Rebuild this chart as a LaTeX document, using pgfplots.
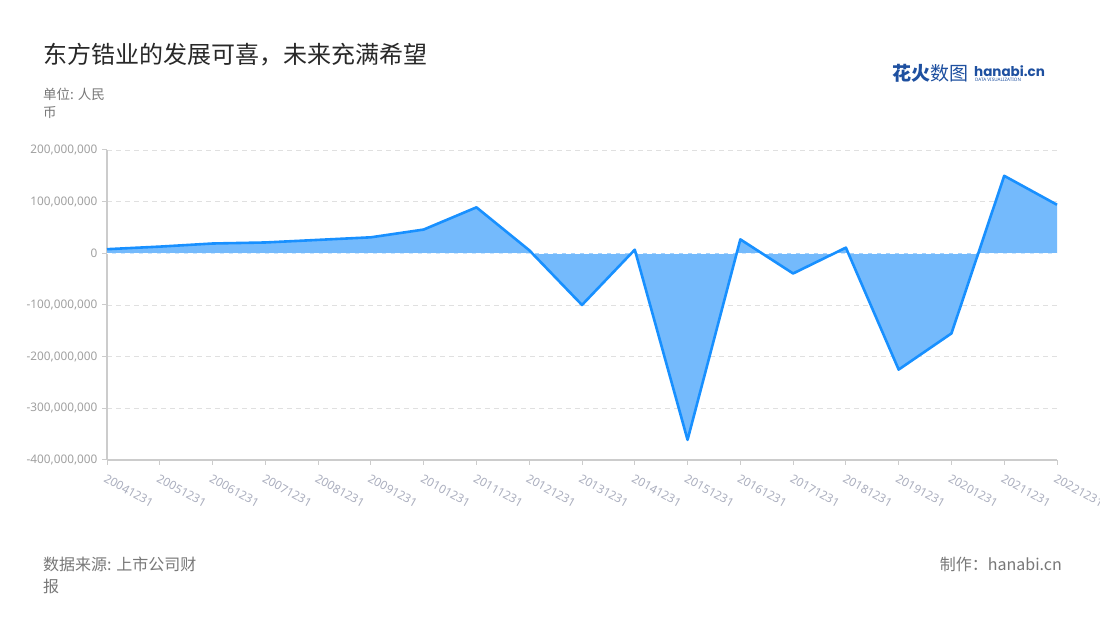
\documentclass[border=0pt]{standalone}
\usepackage{pgfplots}
\pgfplotsset{compat=1.18}
\usepackage{pgfplotstable}
\usepackage{fontspec}
\setmainfont{Noto Sans CJK SC}
\newfontfamily\latinfont{Noto Sans}
\newfontfamily\logofont{Poppins}
\definecolor{lineblue}{RGB}{24,144,255}
\definecolor{fillblue}{RGB}{116,186,252}
\definecolor{titlec}{RGB}{40,40,40}
\definecolor{unitc}{RGB}{120,120,120}
\definecolor{ytickc}{RGB}{160,160,160}
\definecolor{xtickc}{RGB}{170,174,190}
\definecolor{axisc}{RGB}{204,204,204}
\definecolor{gridc}{RGB}{224,224,224}
\definecolor{logoblue}{RGB}{30,80,160}
\pgfplotstableread{
x y
0 8000000
1 13000000
2 19000000
3 21000000
4 26000000
5 31000000
6 46000000
7 89000000
8 6000000
9 -100000000
10 7000000
11 -361000000
12 27000000
13 -39000000
14 11000000
15 -225000000
16 -155000000
17 150000000
18 94000000
}\data
\begin{document}
\begin{tikzpicture}[x=1pt,y=1pt]
\path[use as bounding box, fill=white] (0pt,0pt) rectangle (1100pt,620pt);
\node[anchor=west, text=titlec, font=\fontsize{24}{27}\selectfont, inner sep=0] at (43pt,565pt) {东方锆业的发展可喜，未来充满希望};
\node[anchor=north west, text=unitc, font=\fontsize{13.5}{18}\selectfont, align=left, inner sep=0] at (43pt,532pt) {单位: 人民\\币};
\node[anchor=north west, text=unitc, font=\fontsize{16}{22}\selectfont, align=left, inner sep=0] at (43pt,63pt) {数据来源: 上市公司财\\报};
\node[anchor=north east, text=unitc, font=\fontsize{16}{22}\selectfont, inner sep=0] at (1062pt,63pt) {制作：hanabi.cn};
\node[anchor=west, text=logoblue, font=\bfseries\fontsize{19}{20}\selectfont, inner sep=0] at (892pt,547pt) {花火\mdseries 数图};
\node[anchor=south west, text=logoblue, font=\logofont\bfseries\fontsize{13.5}{14}\selectfont, inner sep=0] at (974pt,543.5pt) {hanabi.cn};
\node[anchor=north west, text=logoblue, font=\latinfont\fontsize{4.6}{5}\selectfont, inner sep=0] at (975pt,542pt) {DATA VISUALIZATION};
\begin{axis}[
  at={(107pt,160pt)}, anchor=south west,
  scale only axis, width=950pt, height=310pt,
  xmin=0, xmax=18, ymin=-400000000, ymax=200000000,
  xtick={0,...,18},
  xticklabels={20041231,20051231,20061231,20071231,20081231,20091231,20101231,20111231,20121231,20131231,20141231,20151231,20161231,20171231,20181231,20191231,20201231,20211231,20221231},
  ytick={-400000000,-300000000,-200000000,-100000000,0,100000000,200000000},
  scaled y ticks=false,
  /pgf/number format/.cd, fixed, precision=0, 1000 sep={,}, assume math mode=true, /pgfplots/.cd,
  axis x line*=bottom, axis y line*=left,
  axis line style={axisc, line width=1.5pt, -},
  x axis line style={line width=2pt},
  tick align=outside, major tick length=5pt,
  tick style={axisc, line width=1pt},
  ymajorgrids, grid style={gridc, dashed, line width=0.8pt, dash pattern=on 5pt off 4pt},
  yticklabel style={text=ytickc, font=\latinfont\fontsize{11.8}{12}\selectfont, xshift=-1pt},
  xticklabel style={text=xtickc, font=\latinfont\fontsize{11.8}{12}\selectfont, rotate=-29, anchor=north west, xshift=1pt, yshift=-4pt},
  clip=false,
]
\addplot[draw=none, fill=fillblue] table[x=x,y=y] {\data} \closedcycle;
\draw[white, dashed, line width=0.6pt, dash pattern=on 5pt off 4pt] (axis cs:0,0) -- (axis cs:18,0);
\addplot[lineblue, line width=2.6pt, line join=round] table[x=x,y=y] {\data};
\end{axis}
\end{tikzpicture}
\end{document}
